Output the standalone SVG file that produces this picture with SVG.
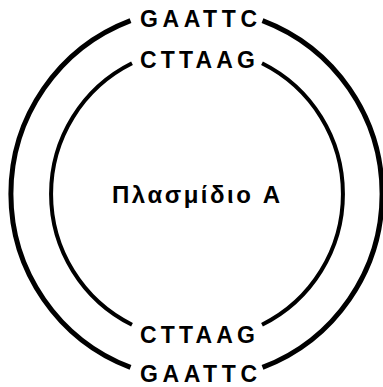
<svg xmlns="http://www.w3.org/2000/svg" width="383" height="387" viewBox="0 0 383 387">
<style>
.seq{font-family:"Liberation Sans",Arial,sans-serif;font-weight:bold;font-size:23px;fill:#000}
.lbl{font-family:"Liberation Sans",Arial,sans-serif;font-weight:bold;font-size:24px;fill:#000}
.outer{fill:none;stroke:#000;stroke-width:5}
.inner{fill:none;stroke:#000;stroke-width:4}
</style>
<rect width="383" height="387" fill="#fff"/>
<g id="connectors">
<path class="outer" d="M262.5,20.6 A185.5,185.5 0 0 1 262.5,367.4"/>
<path class="outer" d="M130.5,20.6 A185.5,185.5 0 0 0 130.5,367.4"/>
<path class="inner" d="M262,63.3 A146,146 0 0 1 262,324.7"/>
<path class="inner" d="M132,63.3 A146,146 0 0 0 132,324.7"/>
</g>
<g id="seq-top-outer"><text class="seq" x="140" y="27" textLength="117" lengthAdjust="spacing">GAATTC</text></g>
<g id="seq-top-inner"><text class="seq" x="140" y="68" textLength="115" lengthAdjust="spacing">CTTAAG</text></g>
<g id="plasmid"><text class="lbl" x="112" y="203" textLength="168" lengthAdjust="spacing">Πλασμίδιο A</text></g>
<g id="seq-bottom-inner"><text class="seq" x="140" y="343" textLength="115" lengthAdjust="spacing">CTTAAG</text></g>
<g id="seq-bottom-outer"><text class="seq" x="140" y="382" textLength="117" lengthAdjust="spacing">GAATTC</text></g>
</svg>
